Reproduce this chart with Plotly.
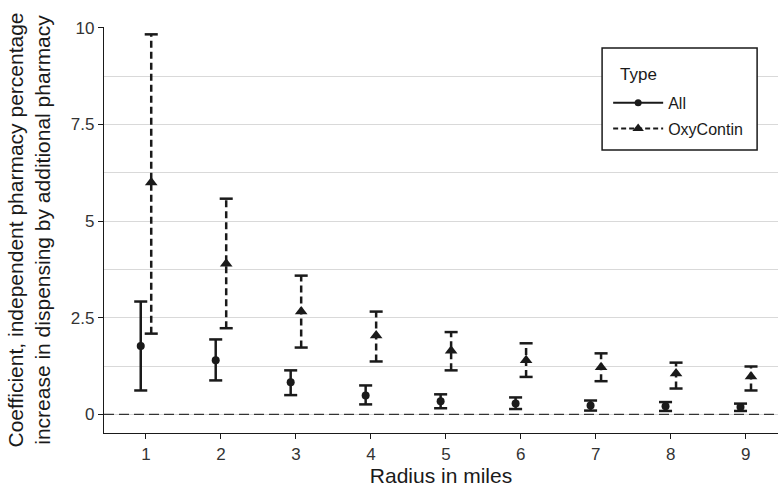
import plotly.graph_objects as go

radius = [1, 2, 3, 4, 5, 6, 7, 8, 9]
all_est = [1.77, 1.40, 0.83, 0.49, 0.34, 0.28, 0.23, 0.21, 0.19]
all_lo = [0.62, 0.88, 0.50, 0.26, 0.16, 0.14, 0.10, 0.09, 0.09]
all_hi = [2.92, 1.94, 1.14, 0.75, 0.52, 0.44, 0.36, 0.32, 0.28]
oxy_est = [6.00, 3.90, 2.66, 2.04, 1.65, 1.40, 1.22, 1.06, 0.98]
oxy_lo = [2.09, 2.23, 1.73, 1.37, 1.14, 0.97, 0.86, 0.67, 0.62]
oxy_hi = [9.83, 5.58, 3.59, 2.66, 2.13, 1.84, 1.58, 1.34, 1.24]
y_ticks = [0, 2.5, 5, 7.5, 10]
y_labels = ["0", "2.5", "5", "7.5", "10"]

DODGE = 0.07
CAP = 0.087
INK = "#1a1a1a"
FONT = "Liberation Sans, Arial, sans-serif"


def vsegs(xs, lo, hi):
    X, Y = [], []
    for x, a, b in zip(xs, lo, hi):
        X += [x, x, None]
        Y += [a, b, None]
    return X, Y


def caps(xs, lo, hi):
    X, Y = [], []
    for x, a, b in zip(xs, lo, hi):
        X += [x - CAP, x + CAP, None, x - CAP, x + CAP, None]
        Y += [a, a, None, b, b, None]
    return X, Y


fig = go.Figure()

series = [
    ("All", all_est, all_lo, all_hi, -DODGE, "solid", "circle", 8),
    ("OxyContin", oxy_est, oxy_lo, oxy_hi, DODGE, "7px,4px", "triangle-up", 11),
]

for name, est, lo, hi, off, dash, sym, msize in series:
    xs = [r + off for r in radius]
    vx, vy = vsegs(xs, lo, hi)
    fig.add_trace(go.Scatter(x=vx, y=vy, mode="lines", showlegend=False,
                             line=dict(color=INK, width=2.5, dash=dash), hoverinfo="skip"))
    cx, cy = caps(xs, lo, hi)
    fig.add_trace(go.Scatter(x=cx, y=cy, mode="lines", showlegend=False,
                             line=dict(color=INK, width=2.5), hoverinfo="skip"))
    fig.add_trace(go.Scatter(x=xs, y=est, mode="markers", showlegend=False,
                             marker=dict(symbol=sym, size=msize, color=INK)))
    # legend entry
    fig.add_trace(go.Scatter(x=[None], y=[None], mode="lines+markers", name=name,
                             legendgroup=name,
                             line=dict(color=INK, width=2, dash=("5px,3px" if dash != "solid" else "solid")),
                             marker=dict(symbol=sym, size=msize - 1, color=INK)))

fig.add_shape(type="line", xref="paper", x0=0, x1=1, yref="y", y0=0, y1=0,
              line=dict(color="#333333", width=1.3, dash="10px,5px"), layer="above")

# legend frame
fig.add_shape(type="rect", xref="paper", yref="paper",
              x0=0.739, x1=0.969, y0=0.697, y1=0.948,
              line=dict(color=INK, width=1.5), fillcolor="white", layer="above")
fig.add_annotation(text="Type", xref="paper", yref="paper", x=0.7626, y=0.882,
                   xanchor="left", yanchor="middle", showarrow=False,
                   font=dict(size=17, color=INK))

fig.update_layout(
    width=778, height=487,
    margin=dict(l=104, r=0, t=27, b=54),
    paper_bgcolor="white", plot_bgcolor="white",
    font=dict(family=FONT, color="#1a1a1a"),
    showlegend=True,
    legend=dict(
        font=dict(size=16),
        x=0.748, y=0.855, xanchor="left", yanchor="top",
        bgcolor="rgba(0,0,0,0)", borderwidth=0,
        itemwidth=50, tracegroupgap=2,
    ),
    xaxis=dict(
        range=[0.44, 9.43], tickmode="array", tickvals=radius,
        ticktext=[str(r) for r in radius],
        showgrid=False, zeroline=False, showline=True, linecolor=INK, linewidth=1.3,
        ticks="outside", ticklen=5, tickcolor=INK, tickwidth=1.2,
        tickfont=dict(size=17, color="#333333"),
        title=dict(text="Radius in miles", font=dict(size=21), standoff=2),
    ),
    yaxis=dict(
        range=[-0.48, 10.02], tickmode="array", tickvals=y_ticks, ticktext=y_labels,
        showgrid=True, gridcolor="#d9d9d9", gridwidth=1.2,
        minor=dict(dtick=1.25, tick0=0, showgrid=True, gridcolor="#d9d9d9", gridwidth=1.2),
        zeroline=False, showline=True, linecolor=INK, linewidth=1.3,
        ticks="outside", ticklen=5, tickcolor=INK, tickwidth=1.2,
        tickfont=dict(size=17, color="#333333"),
        title=dict(text="Coefficient, independent pharmacy percentage<br>increase in dispensing by additional pharmacy",
                   font=dict(size=21), standoff=14),
    ),
)

fig.write_html("out.html", config={"displayModeBar": False},
               post_script="document.body.style.margin='0';")
